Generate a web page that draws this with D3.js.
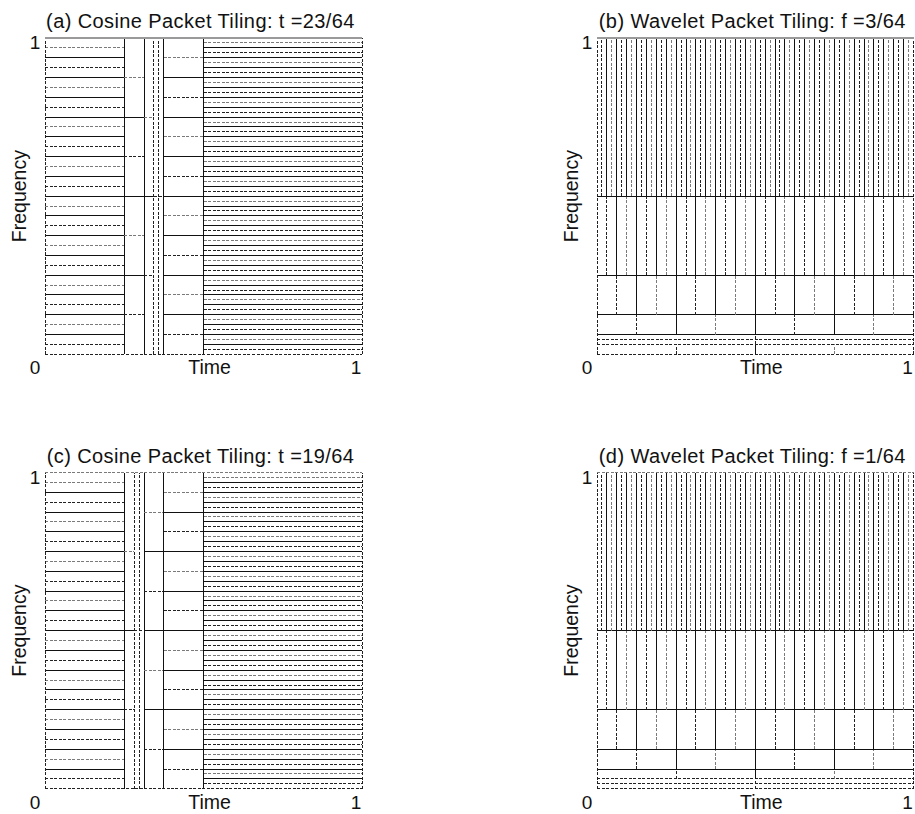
<!DOCTYPE html>
<html>
<head>
<meta charset="utf-8">
<script src="https://cdn.jsdelivr.net/npm/d3@7"></script>
<style>
  html, body { margin: 0; padding: 0; background: #fff; }
  svg { display: block; }
  text { font-family: "Liberation Sans", Arial, Helvetica, sans-serif; fill: #111; }
</style>
</head>
<body>
<svg id="chart" width="915" height="814"></svg>
<script>
// ---------------- DATA ----------------
// Cosine packet tilings: time segmentation (in 64ths of the unit interval) and
// number of frequency tiles in each segment.
const cosineA_breaks = [0, 16, 20, 22, 23, 24, 32, 64];
const cosineA_tiles  = [32, 8, 4, 2, 2, 16, 64];
const cosineC_breaks = [0, 16, 18, 19, 20, 24, 32, 64];
const cosineC_tiles  = [32, 4, 2, 2, 8, 16, 64];
// Wavelet packet tilings: frequency segmentation (in 64ths) and
// number of time tiles in each frequency band.
const waveletB_breaks = [0, 2, 3, 4, 8, 16, 32, 64];
const waveletB_tiles  = [4, 2, 2, 8, 16, 32, 64];
const waveletD_breaks = [0, 1, 2, 4, 8, 16, 32, 64];
const waveletD_tiles  = [2, 2, 4, 8, 16, 32, 64];

const panelTitles = [
  "(a) Cosine Packet Tiling: t =23/64",
  "(b) Wavelet Packet Tiling: f =3/64",
  "(c) Cosine Packet Tiling: t =19/64",
  "(d) Wavelet Packet Tiling: f =1/64"
];
const xTickValues = [0, 1];
const xTickLabels = ["0", "1"];
const yTickValues = [1];
const yTickLabels = ["1"];
const xAxisLabel = "Time";
const yAxisLabel = "Frequency";

// ---------------- LAYOUT ----------------
const svg = d3.select("#chart");
const colX = [[45, 362], [597, 913.5]];
const rowY = [[38, 354.3], [472.5, 788.8]];

const panels = [
  { title: panelTitles[0], kind: "cosine",  breaks: cosineA_breaks,  tiles: cosineA_tiles,  col: 0, row: 0 },
  { title: panelTitles[1], kind: "wavelet", breaks: waveletB_breaks, tiles: waveletB_tiles, col: 1, row: 0 },
  { title: panelTitles[2], kind: "cosine",  breaks: cosineC_breaks,  tiles: cosineC_tiles,  col: 0, row: 1 },
  { title: panelTitles[3], kind: "wavelet", breaks: waveletD_breaks, tiles: waveletD_tiles, col: 1, row: 1 }
];

function styleLine(sel, kind) {
  if (kind === "solid") {
    sel.attr("stroke", "#111").attr("stroke-width", 1);
  } else if (kind === "dash") {
    sel.attr("stroke", "#222").attr("stroke-width", 1).attr("stroke-dasharray", "3,1.5");
  } else if (kind === "gray") {
    sel.attr("stroke", "#7a7a7a").attr("stroke-width", 1).attr("stroke-dasharray", "3,1.5");
  }
  return sel;
}
function innerStyle(k) {
  if (k % 2 === 0) return "solid";
  return (k % 4 === 1) ? "dash" : "gray";
}

panels.forEach(p => {
  const [x0, x1] = colX[p.col];
  const [y0, y1] = rowY[p.row];
  const x = d3.scaleLinear().domain([0, 1]).range([x0, x1]);
  const y = d3.scaleLinear().domain([0, 1]).range([y1, y0]);
  const g = svg.append("g").attr("shape-rendering", "crispEdges");

  const segs = d3.range(p.tiles.length).map(i => ({
    a: p.breaks[i] / 64, b: p.breaks[i + 1] / 64, n: p.tiles[i], i
  }));

  segs.forEach((s, i) => {
    // boundary between segments
    if (i > 0) {
      const fine = p.tiles[i - 1] <= 4 && p.tiles[i] <= 4;
      const kind = fine ? "dash" : "solid";
      if (p.kind === "cosine") {
        styleLine(g.append("line").attr("x1", x(s.a)).attr("x2", x(s.a))
          .attr("y1", y(0)).attr("y2", y(1)), kind);
      } else {
        styleLine(g.append("line").attr("x1", x(0)).attr("x2", x(1))
          .attr("y1", y(s.a)).attr("y2", y(s.a)), kind);
      }
    }
    // tiles inside the segment
    for (let k = 1; k < s.n; k++) {
      const v = k / s.n;
      const kind = innerStyle(k);
      if (p.kind === "cosine") {
        styleLine(g.append("line").attr("x1", x(s.a)).attr("x2", x(s.b))
          .attr("y1", y(v)).attr("y2", y(v)), kind);
      } else {
        styleLine(g.append("line").attr("x1", x(v)).attr("x2", x(v))
          .attr("y1", y(s.a)).attr("y2", y(s.b)), kind);
      }
    }
  });

  // frame
  styleLine(g.append("line").attr("x1", x(0)).attr("x2", x(0)).attr("y1", y(0)).attr("y2", y(1)), "dash");
  styleLine(g.append("line").attr("x1", x(1)).attr("x2", x(1)).attr("y1", y(0)).attr("y2", y(1)), "dash");
  styleLine(g.append("line").attr("x1", x(0)).attr("x2", x(1)).attr("y1", y(0)).attr("y2", y(0)), "dash");
  const top = g.append("line").attr("x1", x(0)).attr("x2", x(1)).attr("y1", y(1)).attr("y2", y(1));
  if (p.row === 0) top.attr("stroke", "#9a9a9a").attr("stroke-width", 1.5);
  else styleLine(top, "gray");

  // title
  svg.append("text")
    .attr("x", (x0 + x1) / 2 - 3)
    .attr("y", y0 - 10)
    .attr("text-anchor", "middle")
    .attr("font-size", 20)
    .attr("letter-spacing", 0.4)
    .text(p.title);

  // x tick labels
  xTickValues.forEach((v, i) => {
    svg.append("text")
      .attr("x", x(v) + (v === 0 ? -10 : -6))
      .attr("y", y(0) + 20)
      .attr("text-anchor", "middle")
      .attr("font-size", 19)
      .text(xTickLabels[i]);
  });
  // y tick labels
  yTickValues.forEach((v, i) => {
    svg.append("text")
      .attr("x", x(0) - 10)
      .attr("y", y(v) + 11)
      .attr("text-anchor", "middle")
      .attr("font-size", 19)
      .text(yTickLabels[i]);
  });
  // axis labels
  svg.append("text")
    .attr("x", (x0 + x1) / 2 + 6)
    .attr("y", y(0) + 20)
    .attr("text-anchor", "middle")
    .attr("font-size", 19.5)
    .text(xAxisLabel);
  svg.append("text")
    .attr("transform", `translate(${x0 - 19},${(y0 + y1) / 2}) rotate(-90)`)
    .attr("text-anchor", "middle")
    .attr("font-size", 19.5)
    .text(yAxisLabel);
});
</script>
</body>
</html>
